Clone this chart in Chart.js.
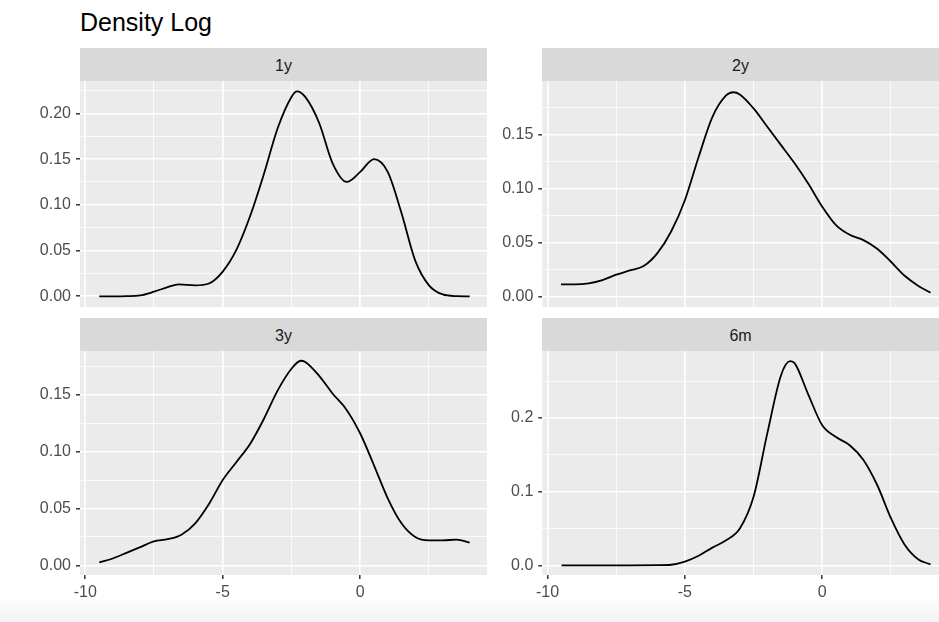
<!DOCTYPE html>
<html>
<head>
<meta charset="utf-8">
<script src="https://cdn.jsdelivr.net/npm/chart.js@4/dist/chart.umd.min.js"></script>
<style>
  html, body { margin: 0; padding: 0; background: #fff; }
  body { width: 939px; height: 622px; position: relative; overflow: hidden; font-family: "Liberation Sans", Arial, sans-serif; }
  .title { position: absolute; left: 80px; top: 10px; font-size: 25px; line-height: 25px; color: #000; }
  .strip { position: absolute; height: 33px; box-sizing: border-box; padding-top: 2px; background: #d9d9d9; color: #1a1a1a; font-size: 16px;
           display: flex; align-items: center; justify-content: center; }
  canvas { position: absolute; }
  .band { position: absolute; left: 0; top: 600px; width: 939px; height: 22px; background: linear-gradient(#fcfcfc, #f3f3f3); }
</style>
</head>
<body>
<div class="band"></div>
<div class="title">Density Log</div>
<div class="strip" style="left:80px; top:48px; width:407px;">1y</div>
<div class="strip" style="left:542px; top:48px; width:397px;">2y</div>
<div class="strip" style="left:80px; top:318px; width:407px;">3y</div>
<div class="strip" style="left:542px; top:318px; width:397px;">6m</div>
<canvas id="p1y" width="487" height="226" style="left:0; top:81px;"></canvas>
<canvas id="p2y" width="449" height="226" style="left:490px; top:81px;"></canvas>
<canvas id="p3y" width="487" height="254" style="left:0; top:351px;"></canvas>
<canvas id="p6m" width="449" height="254" style="left:490px; top:351px;"></canvas>
<script>
  'use strict';
  // x ticks shared by all facets
  var xMajor = [-10, -5, 0];
  var xMinor = [-7.5, -2.5, 2.5];

  // 1y
  var x1y = [-9.49, -9, -8.5, -8, -7.5, -7, -6.6, -6, -5.5, -5, -4.5, -4, -3.5, -3, -2.5, -2.3, -2, -1.5, -1, -0.49, 0, 0.5, 1, 1.5, 2, 2.5, 3, 3.5, 3.98];
  var d1y = [0, 0, 0.0002, 0.001, 0.005, 0.010, 0.013, 0.012, 0.014, 0.027, 0.051, 0.088, 0.134, 0.184, 0.218, 0.224, 0.218, 0.19, 0.145, 0.125, 0.136, 0.150, 0.136, 0.091, 0.039, 0.012, 0.002, 0.0002, 0];

  // 2y
  var x2y = [-9.51, -9, -8.5, -8, -7.5, -7, -6.5, -6, -5.5, -5, -4.5, -4, -3.5, -3.24, -3, -2.5, -2, -1.5, -1, -0.5, 0, 0.5, 1, 1.5, 2, 2.5, 3, 3.5, 3.94];
  var d2y = [0.011, 0.011, 0.012, 0.015, 0.020, 0.024, 0.028, 0.040, 0.060, 0.089, 0.129, 0.166, 0.186, 0.189, 0.187, 0.174, 0.157, 0.140, 0.123, 0.104, 0.083, 0.066, 0.057, 0.052, 0.044, 0.032, 0.019, 0.0096, 0.0034];

  // 3y
  var x3y = [-9.49, -9, -8.5, -8, -7.5, -7, -6.5, -6, -5.5, -5, -4.5, -4, -3.5, -3, -2.5, -2.16, -2, -1.5, -1, -0.5, 0, 0.5, 1, 1.5, 2, 2.5, 3, 3.5, 3.98];
  var d3y = [0.0026, 0.006, 0.011, 0.016, 0.021, 0.023, 0.027, 0.037, 0.054, 0.075, 0.091, 0.107, 0.129, 0.154, 0.173, 0.180, 0.179, 0.167, 0.151, 0.137, 0.116, 0.088, 0.059, 0.037, 0.025, 0.022, 0.022, 0.0226, 0.020];

  // 6m
  var x6m = [-9.49, -9, -8, -7, -6, -5.5, -5, -4.5, -4, -3.5, -3, -2.5, -2, -1.5, -1.17, -1, -0.5, 0, 0.5, 1, 1.5, 2, 2.5, 3, 3.5, 3.94];
  var d6m = [0, 0, 0, 0, 0.0002, 0.0008, 0.005, 0.013, 0.024, 0.034, 0.050, 0.093, 0.179, 0.258, 0.277, 0.274, 0.231, 0.190, 0.174, 0.163, 0.143, 0.109, 0.064, 0.028, 0.008, 0.0014];

  var yMajor2 = [0, 0.05, 0.10, 0.15, 0.20];
  var yMinor2 = [0.025, 0.075, 0.125, 0.175, 0.225];
  var yMajor1 = [0, 0.1, 0.2];
  var yMinor1 = [0.05, 0.15, 0.25];

  var panelBg = {
    id: 'panelBg',
    beforeDraw: function(chart) {
      var a = chart.chartArea, c = chart.ctx;
      c.save();
      c.fillStyle = '#ebebeb';
      c.fillRect(a.left, a.top, a.right - a.left, a.bottom - a.top);
      c.restore();
    }
  };

  function pts(xs, ys) {
    return xs.map(function(x, i) { return { x: x, y: ys[i] }; });
  }

  function makePanel(id, xs, ys, o) {
    var xAll = xMajor.concat(xMinor).sort(function(a, b) { return a - b; });
    var yAll = o.yMajor.concat(o.yMinor).sort(function(a, b) { return a - b; });
    var isMajX = function(v) { return xMajor.indexOf(v) >= 0; };
    var isMajY = function(v) { return o.yMajor.indexOf(v) >= 0; };
    new Chart(document.getElementById(id).getContext('2d'), {
      type: 'line',
      data: {
        datasets: [{
          data: pts(xs, ys),
          borderColor: '#000',
          borderWidth: 1.8,
          pointRadius: 0,
          fill: false,
          cubicInterpolationMode: 'monotone'
        }]
      },
      options: {
        responsive: false,
        animation: false,
        layout: { padding: 0 },
        plugins: { legend: { display: false }, tooltip: { enabled: false } },
        scales: {
          x: {
            type: 'linear',
            min: -10.19,
            max: o.xMax,
            afterBuildTicks: function(s) { s.ticks = xAll.map(function(v) { return { value: v }; }); },
            afterFit: function(s) {
              s.height = o.bottom ? 30 : 0;
              s.paddingLeft = 0; s.paddingRight = 0;
            },
            border: { display: false },
            grid: {
              drawTicks: o.bottom,
              tickLength: 4,
              tickWidth: 1.5,
              tickColor: function(c) { return isMajX(c.tick.value) ? '#333333' : 'rgba(0,0,0,0)'; },
              color: '#ffffff',
              lineWidth: function(c) { return isMajX(c.tick.value) ? 1.6 : 0.8; }
            },
            ticks: {
              display: o.bottom,
              autoSkip: false,
              maxRotation: 0,
              padding: 4,
              color: '#4d4d4d',
              font: { family: 'Liberation Sans', size: 16 },
              callback: function(v) { return isMajX(v) ? String(v) : ''; }
            }
          },
          y: {
            min: o.yMin,
            max: o.yMax,
            afterBuildTicks: function(s) { s.ticks = yAll.map(function(v) { return { value: v }; }); },
            afterFit: function(s) {
              s.width = o.yWidth;
              s.paddingTop = 0; s.paddingBottom = 0;
            },
            border: { display: false },
            grid: {
              tickLength: 4,
              tickWidth: 1.5,
              tickColor: function(c) { return isMajY(c.tick.value) ? '#333333' : 'rgba(0,0,0,0)'; },
              color: '#ffffff',
              lineWidth: function(c) { return isMajY(c.tick.value) ? 1.6 : 0.8; }
            },
            ticks: {
              autoSkip: false,
              padding: 5,
              color: '#4d4d4d',
              font: { family: 'Liberation Sans', size: 16 },
              callback: function(v) { return isMajY(v) ? v.toFixed(o.digits) : ''; }
            }
          }
        }
      },
      plugins: [panelBg]
    });
  }

  makePanel('p1y', x1y, d1y, { xMax: 4.61, yMin: -0.0117, yMax: 0.2354, yMajor: yMajor2, yMinor: yMinor2, digits: 2, yWidth: 80, bottom: false });
  makePanel('p2y', x2y, d2y, { xMax: 4.25, yMin: -0.0099, yMax: 0.1994, yMajor: yMajor2.slice(0, 4), yMinor: yMinor2.slice(0, 4), digits: 2, yWidth: 52.3, bottom: false });
  makePanel('p3y', x3y, d3y, { xMax: 4.61, yMin: -0.0085, yMax: 0.1886, yMajor: yMajor2.slice(0, 4), yMinor: yMinor2.slice(0, 4), digits: 2, yWidth: 80, bottom: true });
  makePanel('p6m', x6m, d6m, { xMax: 4.25, yMin: -0.0131, yMax: 0.2908, yMajor: yMajor1, yMinor: yMinor1, digits: 1, yWidth: 52.3, bottom: true });
</script>
</body>
</html>
